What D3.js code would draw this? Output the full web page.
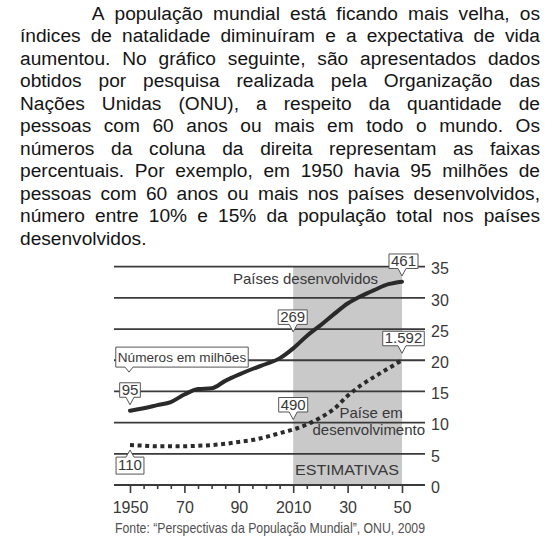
<!DOCTYPE html>
<html><head><meta charset="utf-8">
<script src="https://cdn.jsdelivr.net/npm/d3@7"></script>
<style>html,body{margin:0;padding:0;background:#fff}svg{display:block}</style>
</head><body>
<svg id="c" width="559" height="546"></svg>
<script>
// ---------- data ----------
const paragraphLines = [
  "A população mundial está ficando mais velha, os",
  "índices de natalidade diminuíram e a expectativa de vida",
  "aumentou. No gráfico seguinte, são apresentados dados",
  "obtidos por pesquisa realizada pela Organização das",
  "Nações Unidas (ONU), a respeito da quantidade de",
  "pessoas com 60 anos ou mais em todo o mundo. Os",
  "números da coluna da direita representam as faixas",
  "percentuais. Por exemplo, em 1950 havia 95 milhões de",
  "pessoas com 60 anos ou mais nos países desenvolvidos,",
  "número entre 10% e 15% da população total nos países",
  "desenvolvidos."
];
const years = [1950,1955,1960,1965,1970,1975,1980,1985,1990,1995,2000,2005,2010,2015,2020,2025,2030,2035,2040,2045,2050];
const developed = [11.9,12.3,12.8,13.3,14.5,15.4,15.5,16.7,17.7,18.6,19.4,20.3,21.9,23.9,25.6,27.4,29.1,30.3,31.3,32.2,32.6];
const developing = [6.4,6.3,6.2,6.2,6.2,6.3,6.4,6.6,6.9,7.2,7.7,8.3,8.9,9.7,10.8,12.2,14.3,16.0,17.4,18.7,20.0];
const yTicks = [0,5,10,15,20,25,30,35];
const xLabelYears = [1950,1970,1990,2010,2030,2050];
const xTickLabels = ["1950","70","90","2010","30","50"];
const minorTickYears = d3.range(1950, 2051, 5);
const estimateRange = [2010, 2050];
const calloutLabels = ["95","110","269","490","461","1.592"];
const calloutSeries = ["developed","developing","developed","developing","developed","developing"];
const calloutYears = [1950,1950,2010,2010,2050,2050];
const unitNote = "Números em milhões";
const developedLabel = "Países desenvolvidos";
const developingLabel = ["Paíse em","desenvolvimento"];
const estimateLabel = "ESTIMATIVAS";
const sourceText = "Fonte: “Perspectivas da População Mundial”, ONU, 2009";

// ---------- setup ----------
const svg = d3.select("#c");
const FONT = "'Liberation Sans', Arial, Helvetica, sans-serif";
const ink = "#141414", gridCol = "#3a3a3a", chartText = "#383838";

// ---------- paragraph (justified) ----------
const pSize = 18, pLeft = 20, pRight = 540, pIndent = 91.7, pBase = 19.8, pLead = 22.5;
const meas = svg.append("text").attr("font-family", FONT).attr("font-size", pSize).attr("x", -999).attr("y", -999);
function tw(s){ meas.text(s); return meas.node().getComputedTextLength(); }
const stretch = 126.5 / tw("desenvolvidos.");
const spaceW = tw("a a") - tw("aa");
const para = svg.append("g").attr("font-family", FONT).attr("font-size", pSize).attr("fill", ink);
paragraphLines.forEach((line, i) => {
  const words = line.split(" ");
  const widths = words.map(w => tw(w) * stretch);
  const x0 = i === 0 ? pIndent : pLeft;
  const last = i === paragraphLines.length - 1;
  const total = d3.sum(widths);
  const gap = last ? spaceW * stretch : (pRight - x0 - total) / (words.length - 1);
  let x = x0;
  words.forEach((w, j) => {
    para.append("text").attr("x", x).attr("y", pBase + i * pLead)
      .attr("textLength", widths[j]).attr("lengthAdjust", "spacingAndGlyphs").text(w);
    x += widths[j] + gap;
  });
});
meas.remove();

// ---------- chart ----------
const x = d3.scaleLinear().domain([1950, 2050]).range([130, 402]);
const y = d3.scaleLinear().domain([0, 35]).range([485, 266.7]);
const gridX0 = 114, gridX1 = 425;

// shaded estimates
svg.append("rect")
  .attr("x", x(estimateRange[0])).attr("width", x(estimateRange[1]) - x(estimateRange[0]))
  .attr("y", y(35)).attr("height", y(0) - y(35))
  .attr("fill", "#c9c9c9");

// grid lines
svg.append("g").selectAll("line").data(yTicks).join("line")
  .attr("x1", gridX0).attr("x2", gridX1)
  .attr("y1", d => y(d)).attr("y2", d => y(d))
  .attr("stroke", gridCol).attr("stroke-width", 1.8);

// right axis labels
const rAxis = svg.append("g").attr("transform", `translate(${gridX1},0)`)
  .call(d3.axisRight(y).tickValues(yTicks).tickSize(0).tickPadding(6));
rAxis.select(".domain").remove();
rAxis.selectAll("text").attr("font-family", FONT).attr("font-size", 16).attr("fill", chartText).attr("dy", "0.45em");

// bottom axis
const bAxis = svg.append("g").attr("transform", `translate(0,${y(0)})`)
  .call(d3.axisBottom(x).tickValues(minorTickYears).tickSize(4)
    .tickFormat(d => { const k = xLabelYears.indexOf(d); return k >= 0 ? xTickLabels[k] : ""; }));
bAxis.select(".domain").remove();
bAxis.selectAll(".tick line").attr("stroke", gridCol).attr("stroke-width", 1.6)
  .attr("y2", d => xLabelYears.includes(d) ? 8 : 4);
bAxis.selectAll("text").attr("font-family", FONT).attr("font-size", 16).attr("fill", chartText)
  .attr("y", 28).attr("dy", 0);

// series lines
const line = d3.line().x((d, i) => x(years[i])).y(d => y(d)).curve(d3.curveMonotoneX);
svg.append("path").datum(developed).attr("d", line)
  .attr("fill", "none").attr("stroke", "#2a2a2a").attr("stroke-width", 4)
  .attr("stroke-linejoin", "round").attr("stroke-linecap", "round");
svg.append("path").datum(developing).attr("d", line)
  .attr("fill", "none").attr("stroke", "#2a2a2a").attr("stroke-width", 4)
  .attr("stroke-dasharray", "4,3.6").attr("stroke-linecap", "butt");

// series labels
const lab = svg.append("g").attr("font-family", FONT).attr("font-size", 15).attr("fill", chartText);
lab.append("text").attr("x", 233).attr("y", 284).text(developedLabel);
lab.append("text").attr("x", 339.5).attr("y", 418).text(developingLabel[0]);
lab.append("text").attr("x", 312.5).attr("y", 435).text(developingLabel[1]);
lab.append("text").attr("x", 295).attr("y", 475).attr("textLength", 104).attr("lengthAdjust", "spacingAndGlyphs").text(estimateLabel);

// callouts
function callout(label, ax, ay, dir, boxCx, boxH, fs, gapToBox) {
  const g = svg.append("g");
  const t = g.append("text").attr("font-family", FONT).attr("font-size", fs).attr("fill", chartText)
    .attr("text-anchor", "middle").attr("x", boxCx).text(label);
  const w = t.node().getComputedTextLength() + 4;
  const bx0 = boxCx - w / 2, bx1 = boxCx + w / 2;
  let by0, by1, p;
  if (dir === "down") {
    by1 = ay - gapToBox; by0 = by1 - boxH;
    p = `M${bx0},${by0}H${bx1}V${by1}H${ax + 4}L${ax},${ay}L${ax - 4},${by1}H${bx0}Z`;
  } else {
    by0 = ay + gapToBox; by1 = by0 + boxH;
    p = `M${bx0},${by0}H${ax - 4}L${ax},${ay}L${ax + 4},${by0}H${bx1}V${by1}H${bx0}Z`;
  }
  g.insert("path", "text").attr("d", p).attr("fill", "#fff").attr("stroke", "#555").attr("stroke-width", 1);
  t.attr("y", by1 - (boxH - fs * 0.72) / 2 - 0.5);
}
const seriesVals = {developed, developing};
// layout per callout: apex gap from point, direction, box centre offset
const calloutLayout = {
  "95":    {gap: 6,   dir: "down", dx: 0},
  "110":   {gap: -5,  dir: "up",   dx: 0},
  "269":   {gap: 16.5,dir: "down", dx: -0.5},
  "490":   {gap: 10,  dir: "down", dx: 0},
  "461":   {gap: 5.7, dir: "down", dx: 1.5},
  "1.592": {gap: 7,   dir: "down", dx: 1.5}
};
calloutLabels.forEach((lbl, i) => {
  const L = calloutLayout[lbl];
  const yr = calloutYears[i];
  const v = seriesVals[calloutSeries[i]][years.indexOf(yr)];
  const px = x(yr), py = y(v);
  const ay = py - L.gap;
  callout(lbl, px, ay, L.dir, px + L.dx, L.dir === "down" ? 14.5 : 17, 15, L.dir === "down" ? 7.5 : 7);
});
// unit note box, pointing at the 1950 label
callout(unitNote, x(1950) - 1, y(18.1), "down", 182, 20, 13.6, 5);

// source
svg.append("text").attr("x", 115).attr("y", 532.5)
  .attr("font-family", "'Liberation Sans Narrow', " + FONT).attr("font-size", 15).attr("fill", "#505050")
  .attr("textLength", 310).attr("lengthAdjust", "spacingAndGlyphs").text(sourceText);
</script>
</body></html>
